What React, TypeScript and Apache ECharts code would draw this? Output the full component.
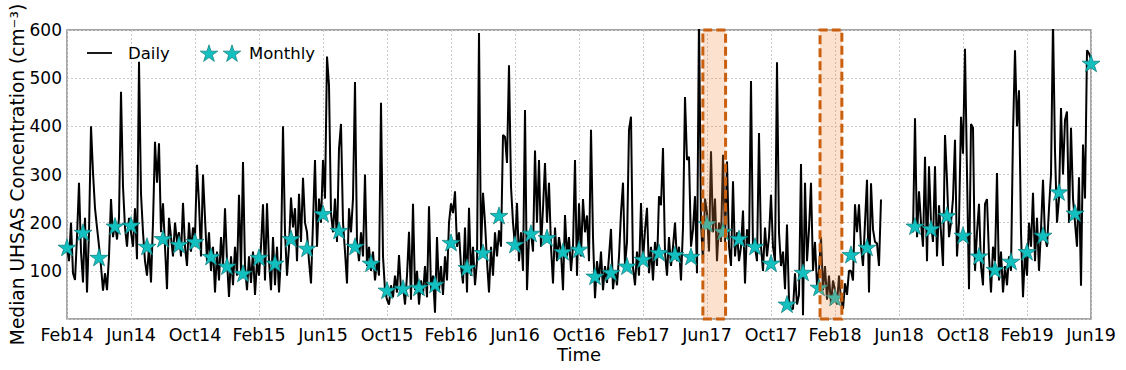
import { useEffect, useRef } from 'react';
import * as echarts from 'echarts';

// ---- data ----
// x-axis tick labels (every 4 months, starting Feb 2014)
const xTickLabels = ['Feb14', 'Jun14', 'Oct14', 'Feb15', 'Jun15', 'Oct15', 'Feb16', 'Jun16', 'Oct16',
  'Feb17', 'Jun17', 'Oct17', 'Feb18', 'Jun18', 'Oct18', 'Feb19', 'Jun19'];

// daily series, sampled 8 times per month starting 1 Feb 2014 (one row per month)
const samplesPerMonth = 8;
const dailyValues: (number | null)[] = [
  150, 120, 200, 95, 81, 170, 283, 140,
  76, 210, 55, 180, 400, 304, 230, 190,
  152, 110, 59, 95, 60, 130, 249, 170,
  200, 165, 210, 472, 275, 190, 150, 210,
  180, 150, 230, 124, 534, 260, 180, 120,
  90, 150, 76, 200, 368, 283, 365, 180,
  240, 150, 62, 210, 170, 130, 200, 160,
  180, 130, 241, 150, 110, 200, 140, 190,
  170, 320, 240, 130, 300, 210, 120, 180,
  100, 150, 55, 140, 80, 170, 110, 230,
  120, 46, 130, 70, 150, 90, 258, 100,
  326, 110, 60, 130, 75, 140, 50, 120,
  90, 150, 238, 80, 240, 120, 60, 170,
  70, 150, 55, 130, 400, 180, 90, 150,
  252, 190, 230, 120, 260, 160, 293, 200,
  180, 120, 74, 200, 330, 150, 250, 200,
  330, 250, 545, 485, 220, 180, 250, 160,
  354, 405, 200, 140, 74, 230, 180, 250,
  492, 160, 120, 180, 130, 300, 110, 150,
  100, 140, 80, 120, 90, 449, 130, 60,
  40, 30, 70, 45, 90, 55, 133, 60,
  70, 30, 90, 181, 40, 239, 60, 100,
  30, 80, 50, 110, 45, 234, 60, 90,
  13, 170, 60, 110, 50, 130, 80, 200,
  240, 220, 265, 150, 180, 110, 74, 190,
  55, 231, 90, 150, 70, 120, 594, 140,
  262, 200, 120, 55, 150, 90, 180, 130,
  184, 150, 382, 378, 324, 527, 275, 200,
  150, 241, 120, 180, 100, 434, 60, 170,
  180, 140, 350, 200, 330, 150, 230, 324,
  200, 283, 150, 74, 190, 120, 170, 140,
  60, 216, 130, 170, 100, 150, 330, 90,
  240, 130, 249, 180, 215, 120, 393, 170,
  43, 120, 80, 140, 60, 110, 75, 130,
  187, 62, 100, 70, 130, 220, 283, 110,
  160, 393, 420, 107, 70, 140, 90, 241,
  120, 184, 231, 95, 150, 80, 160, 110,
  255, 236, 355, 138, 90, 170, 110, 150,
  200, 120, 150, 80, 190, 461, 330, 337,
  150, 186, 255, 95, 630, 200, 120, 250,
  220, 140, 348, 180, 250, 120, 200, 160,
  341, 160, 327, 150, 110, 286, 130, 180,
  120, 150, 225, 74, 186, 150, 494, 140,
  150, 120, 386, 150, 100, 190, 130, 170,
  258, 150, 120, 533, 180, 110, 140, 62,
  196, 40, 20, 21, 95, 30, 50, 322,
  8, 283, 120, 186, 283, 100, 160, 70,
  100, 170, 60, 110, 40, 90, 30, 80,
  60, 30, 90, 40, 21, 74, 50, 100,
  100, 80, 238, 180, 238, 150, 110, 200,
  289, 55, 282, 186, 160, 157, 110, 248,
  null, null, null, null, null, null, null, null,
  null, null, null, null, null, null, null, 180,
  417, 170, 265, 200, 150, 337, 120, 317,
  200, 160, 317, 130, 236, 180, 110, 382,
  289, 170, 200, 250, 372, 130, 200, 420,
  343, 561, 303, 62, 405, 397, 100, 180,
  239, 110, 70, 239, 249, 130, 55, 150,
  120, 303, 80, 140, 55, 110, 70, 130,
  100, 386, 558, 400, 475, 180, 45, 140,
  90, 200, 150, 262, 120, 210, 100, 186,
  289, 170, 150, 230, 300, 620, 348, 200,
  250, 438, 300, 413, 431, 200, 397, 250,
  200, 150, 294, 69, 362, 250, 558, 551,
  540,
];

// monthly medians, Feb 2014 .. Jun 2019 (first of each month)
const monthlyMedians: (number | null)[] = [
  149, 180, 128, 193, 195, 151, 167, 155, 161, 130, 110, 95,   // Feb14 - Jan15
  128, 116, 167, 147, 219, 184, 151, 116, 60, 64, 66, 72,      // Feb15 - Jan16
  159, 107, 138, 215, 155, 178, 169, 140, 145, 89, 97, 110,    // Feb16 - Jan17
  124, 138, 134, 130, 198, 182, 167, 151, 116, 31, 97, 66,     // Feb17 - Jan18
  45, 134, 149, null, null, 193, 188, 215, 174, 131, 103, 120, // Feb18 - Jan19
  140, 174, 264, 220, 531,                                     // Feb19 - Jun19
];

// highlighted periods (start, end)
const highlightPeriods: [string, string][] = [
  ['2017-05-24', '2017-07-06'],
  ['2018-01-03', '2018-02-13'],
];

// ---- helpers ----
const START_YEAR = 2014;
const START_MONTH = 2;
function monthIndex(date: string): number {
  const [y, m, d] = date.split('-').map(Number);
  const dim = new Date(y, m, 0).getDate();
  return (y - START_YEAR) * 12 + (m - START_MONTH) + (d - 1) / dim;
}

function starPoints(cx: number, cy: number, r: number): number[][] {
  const pts: number[][] = [];
  for (let k = 0; k < 10; k++) {
    const rad = k % 2 === 0 ? r : r * 0.382;
    const a = -Math.PI / 2 + (k * Math.PI) / 5;
    pts.push([cx + rad * Math.cos(a), cy + rad * Math.sin(a)]);
  }
  return pts;
}
const starPath = 'path://M' + starPoints(0, 0, 10).map((p) => p[0].toFixed(3) + ',' + p[1].toFixed(3)).join(' L') + ' Z';

const FONT = 'DejaVu Sans';
const STAR_COLOR = '#13bfbf';
const STAR_EDGE = '#0b7b7b';

export default function App() {
  const ref = useRef<HTMLDivElement>(null);
  useEffect(() => {
    document.body.style.margin = '0';
    if (!ref.current) return;
    const chart = echarts.init(ref.current, undefined, { renderer: 'svg' });

    const dailyData = dailyValues.map((v, i) => [i / samplesPerMonth, v]);
    const monthlyData = monthlyMedians.map((v, i) => [i, v]);
    const areas = highlightPeriods.map(([s, e]) => [
      { xAxis: monthIndex(s), yAxis: 0 },
      { xAxis: monthIndex(e), yAxis: 600 },
    ]);

    const legendY = 53;
    chart.setOption({
      animation: false,
      backgroundColor: '#ffffff',
      textStyle: { fontFamily: FONT },
      grid: {
        left: 67, right: 35, top: 30, bottom: 51,
        containLabel: false,
        outerBoundsMode: 'none',
        show: true, borderColor: '#8a8a8a', borderWidth: 1.5, backgroundColor: 'transparent',
      },
      xAxis: {
        type: 'value',
        min: 0,
        max: (xTickLabels.length - 1) * 4,
        interval: 4,
        name: 'Time',
        nameLocation: 'middle',
        nameGap: 26,
        nameMoveOverlap: false,
        nameTextStyle: { fontFamily: FONT, fontSize: 18, color: '#000', verticalAlign: 'top' },
        axisLine: { show: false },
        axisTick: { show: false },
        axisLabel: {
          fontFamily: FONT, fontSize: 17.5, color: '#000', margin: 7,
          formatter: (v: number) => xTickLabels[Math.round(v / 4)] ?? '',
        },
        splitLine: { show: true, lineStyle: { color: '#c8c8c8', type: [2, 2], width: 1 } },
      },
      yAxis: {
        type: 'value',
        min: 0,
        max: 600,
        interval: 100,
        name: 'Median UHSAS Concentration (cm⁻³)',
        nameLocation: 'middle',
        nameGap: 40,
        nameMoveOverlap: false,
        nameRotate: 90,
        nameTextStyle: { fontFamily: FONT, fontSize: 18.6, color: '#000' },
        axisLine: { show: false },
        axisTick: { show: false },
        axisLabel: {
          fontFamily: FONT, fontSize: 17, color: '#000', margin: 5,
          formatter: (v: number) => (v === 0 ? '' : String(v)),
        },
        splitLine: { show: true, lineStyle: { color: '#c8c8c8', type: [2, 2], width: 1 } },
      },
      series: [
        {
          name: 'Daily',
          type: 'line',
          data: dailyData,
          showSymbol: false,
          symbol: 'none',
          connectNulls: false,
          clip: true,
          z: 2,
          lineStyle: { color: '#000', width: 2 },
        },
        {
          name: 'Monthly',
          type: 'scatter',
          data: monthlyData,
          symbol: starPath,
          symbolSize: 18,
          symbolKeepAspect: true,
          clip: false,
          z: 3,
          itemStyle: { color: STAR_COLOR, borderColor: STAR_EDGE, borderWidth: 0.7, opacity: 1 },
        },
        {
          name: 'highlight',
          type: 'line',
          data: [],
          z: 10,
          markArea: {
            silent: true,
            z: 10,
            itemStyle: {
              color: 'rgba(245, 140, 70, 0.26)',
              borderColor: '#c9600f',
              borderWidth: 3,
              borderType: [9, 4],
            },
            data: areas,
          },
        },
      ],
      graphic: [
        { type: 'line', shape: { x1: 87, y1: legendY, x2: 112, y2: legendY }, style: { stroke: '#000', lineWidth: 1.8 }, z: 20 },
        { type: 'text', x: 128, y: legendY, style: { text: 'Daily', font: `16.5px "${FONT}"`, fill: '#000', textVerticalAlign: 'middle', verticalAlign: 'middle' }, z: 20 },
        { type: 'polygon', shape: { points: starPoints(209, legendY + 1, 9.2) }, style: { fill: STAR_COLOR, stroke: STAR_EDGE, lineWidth: 0.7 }, z: 20 },
        { type: 'polygon', shape: { points: starPoints(232, legendY + 1, 9.2) }, style: { fill: STAR_COLOR, stroke: STAR_EDGE, lineWidth: 0.7 }, z: 20 },
        { type: 'text', x: 249, y: legendY, style: { text: 'Monthly', font: `16.5px "${FONT}"`, fill: '#000', textVerticalAlign: 'middle', verticalAlign: 'middle' }, z: 20 },
      ],
    });
    return () => chart.dispose();
  }, []);
  return <div ref={ref} style={{ width: 1126, height: 370 }} />;
}
